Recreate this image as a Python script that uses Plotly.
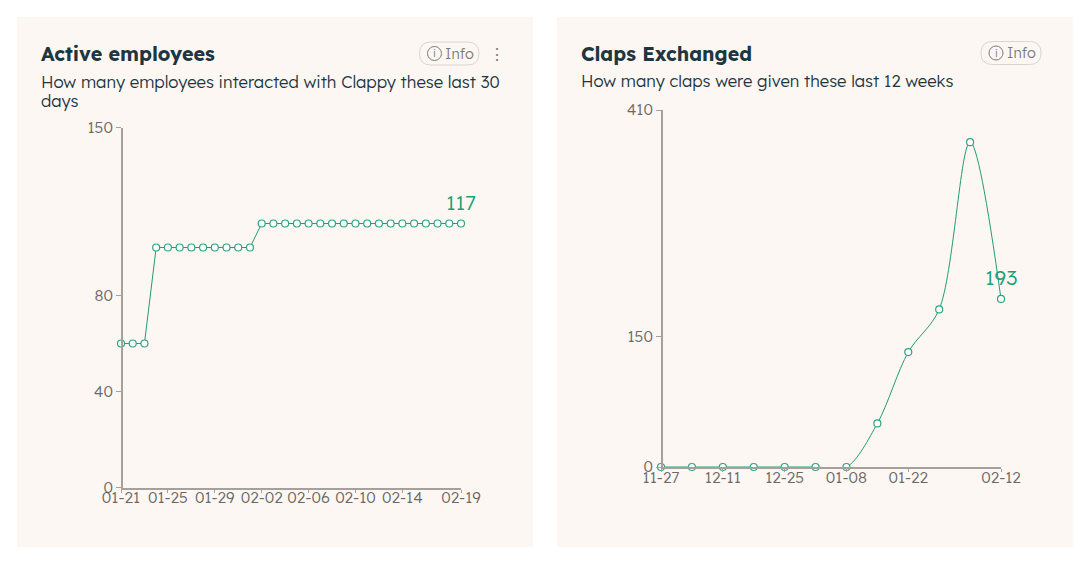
import plotly.graph_objects as go
from datetime import date, timedelta

W, H = 1089, 563

# ---- data ----
days = [(date(2024, 1, 21) + timedelta(days=i)).strftime("%m-%d") for i in range(30)]
active = [60, 60, 60, 100, 100, 100, 100, 100, 100, 100, 100, 100,
          110, 110, 110, 110, 110, 110, 110, 110, 110, 110, 110, 110,
          110, 110, 110, 110, 110, 110]
active_ticks_x = ["01-21", "01-25", "01-29", "02-02", "02-06", "02-10", "02-14", "02-19"]
active_ticks_y = [0, 40, 80, 150]
active_label = "117"

weeks = ["11-27", "12-04", "12-11", "12-18", "12-25", "01-01", "01-08",
         "01-15", "01-22", "01-29", "02-05", "02-12"]
claps = [0, 0, 0, 0, 0, 0, 0, 50, 132, 181, 373, 193]
claps_ticks_x = ["11-27", "12-11", "12-25", "01-08", "01-22", "02-12"]
claps_ticks_y = [0, 150, 410]
claps_label = "193"

# ---- style ----
FONT = "Lexend, Inter, Lato, sans-serif"
CARD = "#fcf7f3"
GREEN = "#1f9d75"
AXIS = "#a5a09c"
TICKTXT = "#6b6764"
DARK = "#1d3640"


def px(x):
    return x / W


def py(y):
    return 1 - y / H


fig = go.Figure()
for i, (xs, ys) in enumerate([(days, active), (weeks, claps)]):
    fig.add_trace(go.Scatter(
        x=xs, y=ys, mode="lines+markers", xaxis="x" if i == 0 else "x2",
        yaxis="y" if i == 0 else "y2", cliponaxis=False, hoverinfo="x+y",
        line=dict(color=GREEN, width=1, shape="linear" if i == 0 else "spline", smoothing=0.9),
        marker=dict(size=7, color="#ffffff", line=dict(color="#2ba680", width=1.2)),
        showlegend=False,
    ))


def xaxis(dom, cats, ticks):
    return dict(domain=dom, type="category", categoryorder="array", categoryarray=cats,
                range=[0, len(cats) - 1], tickmode="array", tickvals=ticks, ticktext=ticks,
                showgrid=False, zeroline=False, showline=True, linecolor=AXIS, linewidth=2,
                ticks="outside", ticklen=3, tickwidth=1, tickcolor=AXIS, tickangle=0,
                ticklabelstandoff=-8, automargin=False,
                tickfont=dict(family=FONT, size=15.5, color=TICKTXT, weight=300))


def yaxis(dom, rng, ticks, pos):
    return dict(domain=dom, range=rng, tickmode="array", tickvals=ticks, ticktext=[str(t) for t in ticks],
                showgrid=False, zeroline=False, showline=True, linecolor=AXIS, linewidth=2,
                ticks="outside", ticklen=5, tickwidth=1, tickcolor=AXIS, anchor="free", position=pos,
                ticklabelstandoff=0, automargin=False,
                tickfont=dict(family=FONT, size=15.5, color=TICKTXT, weight=300))


shapes = []
for x0, x1 in [(17, 533), (557, 1073)]:
    shapes.append(dict(type="rect", xref="paper", yref="paper", x0=px(x0), x1=px(x1), y0=py(547), y1=py(17),
                       fillcolor=CARD, line=dict(width=0), layer="below"))


def pill(x0, x1, y0, y1):
    r = (y1 - y0) / 2
    a, b, c, d = px(x0), px(x1), py(y0), py(y1)
    rx, ry = px(r), r / H
    path = (f"M {a+rx} {c} L {b-rx} {c} Q {b} {c} {b} {c-ry} Q {b} {d} {b-rx} {d} "
            f"L {a+rx} {d} Q {a} {d} {a} {c-ry} Q {a} {c} {a+rx} {c} Z")
    shapes.append(dict(type="path", xref="paper", yref="paper", path=path,
                       line=dict(color="#d9d5d2", width=1), layer="below"))
    cx, cy = x0 + 15, (y0 + y1) / 2
    shapes.append(dict(type="circle", xref="paper", yref="paper", x0=px(cx - 7), x1=px(cx + 7),
                       y0=py(cy + 7), y1=py(cy - 7), line=dict(color="#7d7975", width=1)))


pill(419.5, 479, 42, 65)
pill(981, 1041, 41.5, 64.5)

annots = []


def text(x, y, s, size, color, weight=400, xanchor="left"):
    annots.append(dict(xref="paper", yref="paper", x=px(x), y=py(y), text=s, showarrow=False,
                       xanchor=xanchor, yanchor="middle", align="left", xshift=0,
                       font=dict(family=FONT, size=size, color=color, weight=weight)))


text(37.5, 54, "Active employees", 19.7, DARK, 700)
text(38.5, 82, "How many employees interacted with Clappy these last 30", 16.7, DARK, 300)
text(38.5, 101, "days", 16.7, DARK, 300)
text(578.5, 53, "Claps Exchanged", 19.6, DARK, 700)
text(578.5, 80, "How many claps were given these last 12 weeks", 16.65, DARK, 300)
text(434.5, 53.5, "i", 11, "#7d7975", 300, "center")
text(443, 53, "Info", 14.5, "#7d7975", 300)
text(996, 53, "i", 11, "#7d7975", 300, "center")
text(1005, 52, "Info", 14.5, "#7d7975", 300)
text(497, 54, "⋮", 16, "#7d7975", 400, "center")

annots.append(dict(xref="x", yref="y", x=days[-1], y=active[-1], text=active_label, showarrow=False,
                   yshift=22, yanchor="middle", font=dict(family=FONT, size=21, color=GREEN, weight=300)))
annots.append(dict(xref="x2", yref="y2", x=weeks[-1], y=claps[-1], text=claps_label, showarrow=False,
                   yshift=22, yanchor="middle", font=dict(family=FONT, size=21, color=GREEN, weight=300)))

fig.update_layout(
    width=W, height=H, margin=dict(l=0, r=0, t=0, b=0, autoexpand=False), autosize=False,
    paper_bgcolor="#ffffff", plot_bgcolor="rgba(0,0,0,0)", showlegend=False,
    xaxis=xaxis([px(121), px(461)], days, active_ticks_x),
    yaxis=yaxis([py(487.5), py(127.5)], [0, 150], active_ticks_y, px(122)),
    xaxis2=xaxis([px(661), px(1001)], weeks, claps_ticks_x),
    yaxis2=yaxis([py(467), py(110)], [0, 410], claps_ticks_y, px(662)),
    shapes=shapes, annotations=annots,
)
fig.update_layout(xaxis=dict(anchor="y"), xaxis2=dict(anchor="y2"))

fig.write_html("out.html", config=dict(displayModeBar=False),
               post_script="document.body.style.margin='0';document.body.style.overflow='hidden';")
